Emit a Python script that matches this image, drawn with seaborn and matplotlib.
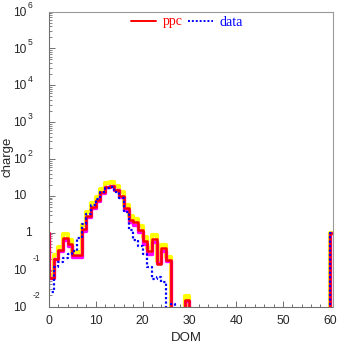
import numpy as np
import pandas as pd
import matplotlib
matplotlib.use("Agg")
import matplotlib.pyplot as plt
import matplotlib.transforms as mtransforms
from matplotlib.lines import Line2D
import seaborn as sns

# ---- data (bins of width 1; DOM -1 .. 60) ----
dom = list(range(-1, 61))

ppc = [1, 0.06, 0.20, 0.34, 0.71, 0.50, 0.25, 0.25, 1.3, 2.9,
       5.1, 7.6, 12.5, 17.5, 18.5, 14.5, 10.0, 4.6, 2.2, 1.9,
       1.2, 0.6, 0.32, 0.66, 0.14, 0.38, 0.18, 0, 0, 0,
       0.015, 0, 0, 0, 0, 0, 0, 0, 0, 0,
       0, 0, 0, 0, 0, 0, 0, 0, 0, 0,
       0, 0, 0, 0, 0, 0, 0, 0, 0, 0,
       0, 1]
ppc_hi = [1, 0.07, 0.25, 0.42, 0.92, 0.62, 0.31, 0.30, 1.6, 3.6,
          6.4, 9.5, 15.5, 22.5, 24, 18.5, 12.5, 5.6, 2.8, 2.4,
          1.5, 0.75, 0.38, 0.85, 0.17, 0.48, 0.22, 0, 0, 0,
          0.019, 0, 0, 0, 0, 0, 0, 0, 0, 0,
          0, 0, 0, 0, 0, 0, 0, 0, 0, 0,
          0, 0, 0, 0, 0, 0, 0, 0, 0, 0,
          0, 1]
ppc_lo = [1, 0.06, 0.19, 0.32, 0.62, 0.45, 0.22, 0.22, 1.15, 2.7,
          4.8, 7.2, 12, 17, 18, 14, 9.4, 4.2, 2.0, 1.65,
          1.05, 0.5, 0.27, 0.55, 0.15, 0.33, 0.17, 0, 0, 0,
          0.014, 0, 0, 0, 0, 0, 0, 0, 0, 0,
          0, 0, 0, 0, 0, 0, 0, 0, 0, 0,
          0, 0, 0, 0, 0, 0, 0, 0, 0, 0,
          0, 1]
data = [1, 0.025, 0.12, 0.16, 0.21, 0.27, 0.32, 0.72, 1.7, 3.3,
        5.8, 8.0, 13, 16.5, 17, 13, 8.8, 3.6, 1.2, 0.65,
        0.45, 0.26, 0.12, 0.056, 0.064, 0.047, 0, 0.012, 0, 0,
        0, 0, 0, 0, 0, 0, 0, 0, 0, 0,
        0, 0, 0, 0, 0, 0, 0, 0, 0, 0,
        0, 0, 0, 0, 0, 0, 0, 0, 0, 0,
        0, 1]

x_ticks = [0, 10, 20, 30, 40, 50, 60]
y_exps = [-2, -1, 0, 1, 2, 3, 4, 5, 6]

# ---- figure ----
sns.set_style("ticks")
plt.rcParams["font.family"] = ["Liberation Sans", "DejaVu Sans"]

W, H = 337, 344
fig = plt.figure(figsize=(W / 100, H / 100), dpi=100)
L, R, T, B = 49, 332.5, 11.5, 306.5
ax = fig.add_axes([L / W, 1 - B / H, (R - L) / W, (B - T) / H])

def step_frame(vals):
    edges = dom + [dom[-1] + 1]
    v = [max(a, 1e-4) for a in vals]
    return pd.DataFrame({"x": edges, "y": v + [v[-1]]})

sns.lineplot(data=step_frame(ppc_hi), x="x", y="y", ax=ax, color="#ffff00",
             lw=3.0, drawstyle="steps-post", estimator=None)
sns.lineplot(data=step_frame(ppc_lo), x="x", y="y", ax=ax, color="#ff00ff",
             lw=2.4, drawstyle="steps-post", estimator=None)
sns.lineplot(data=step_frame(ppc), x="x", y="y", ax=ax, color="#ff0000",
             lw=1.8, drawstyle="steps-post", estimator=None)
sns.lineplot(data=step_frame(data), x="x", y="y", ax=ax, color="#0000ff",
             lw=1.6, drawstyle="steps-post", estimator=None,
             linestyle=(0, (1, 1)))

ax.set_yscale("log")
ax.set_xlim(0, 60.6)
ax.set_ylim(1e-2, 1e6)

for s in ["top", "right"]:
    ax.spines[s].set_color("#9a9a9a")
for s in ["left", "bottom"]:
    ax.spines[s].set_color("#707070")
for s in ax.spines.values():
    s.set_linewidth(0.8)

ax.set_xticks(x_ticks)
ax.set_xticks(np.arange(0, 61, 2), minor=True)
ax.tick_params(axis="x", which="major", direction="in", length=4, width=0.7,
               color="#707070", labelsize=8.8, pad=6)
ax.tick_params(axis="x", which="minor", direction="in", length=2.2, width=0.7,
               color="#707070")
ax.tick_params(axis="y", which="major", direction="in", length=4, width=0.7,
               color="#707070", labelleft=False)
ax.tick_params(axis="y", which="minor", direction="in", length=2, width=0.6,
               color="#707070")
ax.yaxis.set_minor_locator(matplotlib.ticker.LogLocator(base=10, subs=np.arange(2, 10)))
ax.set_xlabel("")
ax.set_ylabel("")

# y tick labels drawn ROOT-style
tr = mtransforms.blended_transform_factory(fig.transFigure, ax.transData)
px_dec = (B - T) / 8.0
for e in y_exps:
    v = 10.0 ** e
    if e == 0:
        ax.text(31.5 / W, v, "1", transform=tr, ha="right", va="center", fontsize=8.6)
    elif e == 1:
        ax.text(26 / W, v, "10", transform=tr, ha="right", va="center", fontsize=8.6)
    else:
        ax.text(26 / W, v / 10 ** (1.2 / px_dec), "10", transform=tr, ha="right",
                va="center", fontsize=8.6)
        if e < 0:
            ax.text(32.5 / W, v * 10 ** (11 / px_dec), str(e), transform=tr,
                    ha="left", va="center", fontsize=6.2)
        else:
            ax.text(28 / W, v * 10 ** (6 / px_dec), str(e), transform=tr,
                    ha="left", va="center", fontsize=6.2)

fig.text(186 / W, 1 - 338 / H, "DOM", ha="center", va="center", fontsize=9.5)
fig.text(7 / W, 1 - 157 / H, "charge", ha="center", va="center", rotation=90,
         fontsize=9.5)

handles = [Line2D([], [], color="#ff0000", lw=1.4),
           Line2D([], [], color="#0000ff", lw=1.4, linestyle=(0, (1, 1)))]
leg = fig.legend(handles, ["ppc", "data"], loc="center",
                 bbox_to_anchor=(187 / W, 1 - 22 / H), ncol=2, frameon=False,
                 handlelength=1.8, handletextpad=0.5, columnspacing=0.4,
                 prop={"family": ["Liberation Serif"], "size": 10})
for t, c in zip(leg.get_texts(), ["#ff0000", "#0000ff"]):
    t.set_color(c)

fig.savefig("out.png", dpi=100)
